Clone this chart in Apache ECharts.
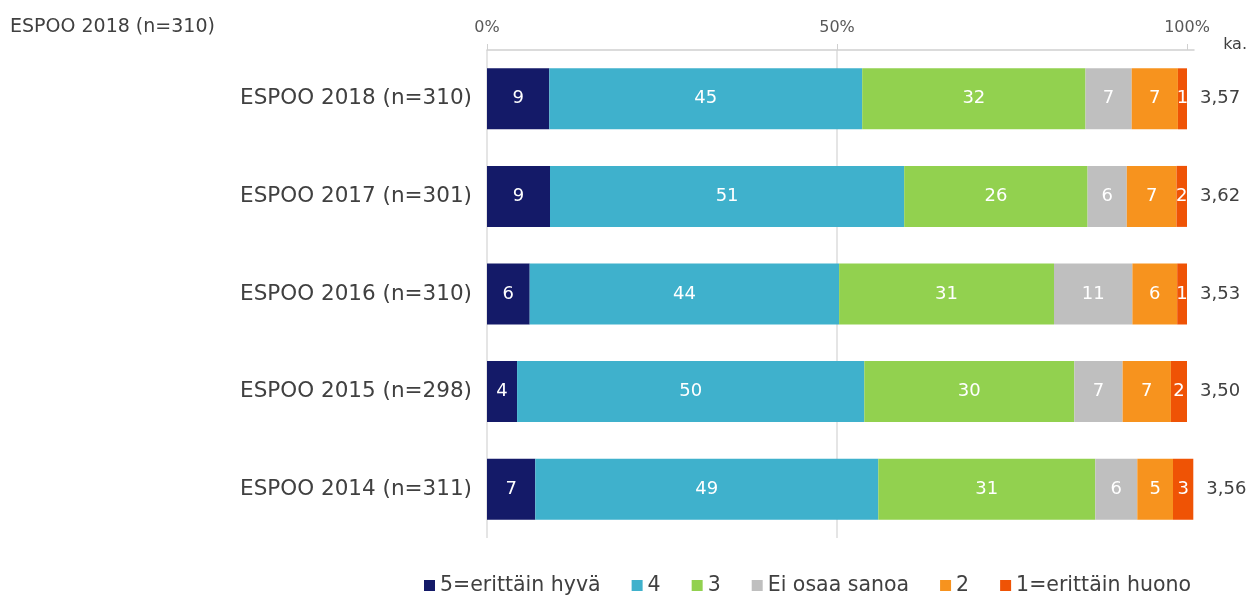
<!DOCTYPE html>
<html>
<head>
<meta charset="utf-8">
<script src="https://cdn.jsdelivr.net/npm/echarts@6/dist/echarts.min.js"></script>
<style>
  html, body { margin: 0; padding: 0; background: #fff; }
  #chart { width: 1247px; height: 595px; }
</style>
</head>
<body>
<div id="chart"></div>
<script>
var categories = ['ESPOO 2018 (n=310)', 'ESPOO 2017 (n=301)', 'ESPOO 2016 (n=310)', 'ESPOO 2015 (n=298)', 'ESPOO 2014 (n=311)'];
var seriesNames = ['5=erittäin hyvä', '4', '3', 'Ei osaa sanoa', '2', '1=erittäin huono'];

// osuudet (%) vuosittain, järjestyksessä 2018 ... 2014
var hyva5 = [8.9, 9.0, 6.1, 4.3, 6.9];
var arvo4 = [44.7, 50.6, 44.2, 49.6, 49.0];
var arvo3 = [31.9, 26.2, 30.7, 30.0, 31.0];
var eiOsaa = [6.6, 5.6, 11.2, 6.9, 6.0];
var arvo2 = [6.6, 7.1, 6.4, 6.9, 5.1];
var huono1 = [1.3, 1.5, 1.4, 2.3, 2.9];

// keskiarvot
var averages = [3.57, 3.62, 3.53, 3.50, 3.56];

var axisTicks = [0, 50, 100];
var colors = ['#141a68', '#3fb1cc', '#92d14f', '#bfbfbf', '#f7931e', '#ef5305'];

var seriesValues = [hyva5, arvo4, arvo3, eiOsaa, arvo2, huono1];

var chart = echarts.init(document.getElementById('chart'));

var series = [];
for (var i = 0; i < seriesNames.length; i++) {
	series.push({
		name: seriesNames[i],
		type: 'bar',
		stack: 'total',
		barWidth: 61,
		clip: false,
		itemStyle: { color: colors[i] },
		label: {
			show: true,
			position: 'inside',
			color: '#fff',
			fontSize: 18,
			fontFamily: 'DejaVu Sans',
			formatter: function(p) { return Math.round(p.value); }
		},
		emphasis: { disabled: true },
		data: seriesValues[i]
	});
}

// keskiarvot pinon perään
series.push({
	name: 'ka.',
	type: 'bar',
	stack: 'total',
	barWidth: 61,
	clip: false,
	itemStyle: { color: 'transparent' },
	label: {
		show: true,
		position: 'right',
		distance: 13,
		color: '#404040',
		fontSize: 18,
		fontFamily: 'DejaVu Sans',
		formatter: function(p) { return averages[p.dataIndex].toFixed(2).replace('.', ','); }
	},
	data: averages.map(function() { return 0; })
});

var option = {
	animation: false,
	color: colors,
	title: {
		text: 'ESPOO 2018 (n=310)',
		left: 5,
		top: 13,
		textStyle: { fontSize: 19, fontWeight: 'normal', color: '#404040', fontFamily: 'DejaVu Sans' }
	},
	legend: {
		data: seriesNames,
		left: 419,
		top: 570,
		icon: 'rect',
		itemWidth: 11,
		itemHeight: 11,
		itemGap: 31,
		textStyle: { fontSize: 20.5, color: '#404040', fontFamily: 'DejaVu Sans' }
	},
	grid: {
		left: 487,
		top: 50,
		width: 707,
		height: 488
	},
	xAxis: {
		type: 'value',
		position: 'top',
		min: 0,
		max: 101,
		interval: 50,
		axisLine: { show: true, lineStyle: { color: '#d0d0d0', width: 1.5 } },
		axisTick: { show: true, length: 6, customValues: axisTicks, lineStyle: { color: '#d0d0d0' } },
		axisLabel: {
			customValues: axisTicks,
			margin: 14,
			fontSize: 16,
			color: '#595959',
			fontFamily: 'DejaVu Sans',
			formatter: '{value}%'
		},
		splitLine: { show: true, showMaxLine: false, lineStyle: { color: '#dcdcdc', width: 1.5 } }
	},
	yAxis: {
		type: 'category',
		inverse: true,
		data: categories,
		axisLine: { show: false },
		axisTick: { show: false },
		axisLabel: { margin: 15, fontSize: 21.5, color: '#404040', fontFamily: 'DejaVu Sans' }
	},
	graphic: [{
		type: 'text',
		right: 0,
		top: 37,
		style: { text: 'ka.', fontSize: 16, fill: '#404040', fontFamily: 'DejaVu Sans' }
	}],
	series: series
};

chart.setOption(option);
</script>
</body>
</html>
